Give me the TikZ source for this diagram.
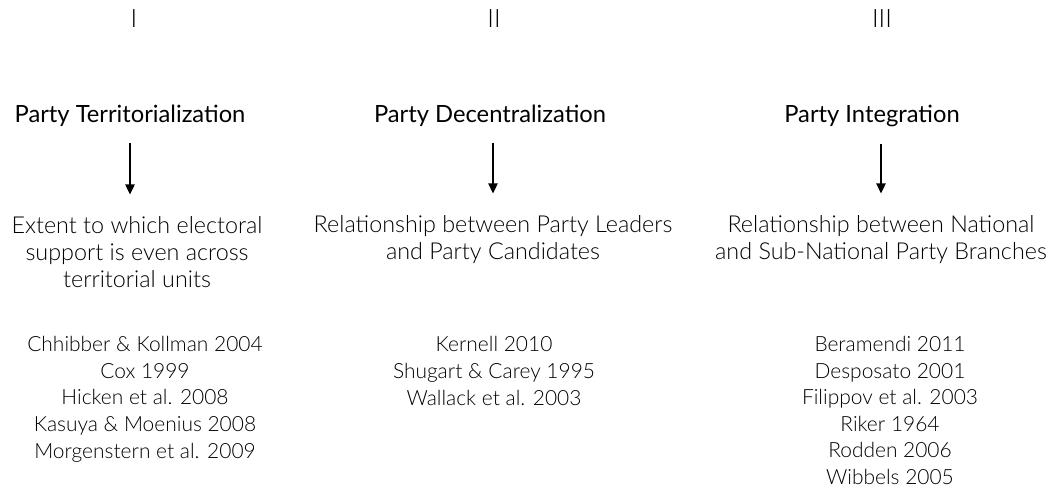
\documentclass[tikz,border=0pt]{standalone}
\usepackage{fontspec}
\setmainfont{Lato}
\newfontfamily\lightfont{Lato Light}
\usetikzlibrary{arrows.meta, positioning}

\begin{document}
\begin{tikzpicture}[x=0.75pt, y=-0.75pt,
  numeral/.style={font=\lightfont\fontsize{19}{19}\selectfont, inner sep=0pt},
  heading/.style={font=\fontsize{17.8}{20}\selectfont, anchor=base, inner sep=0pt},
  desc/.style={font=\lightfont\fontsize{17.5}{20.6}\selectfont, align=center, anchor=base, inner sep=0pt},
  refs/.style={font=\lightfont\fontsize{15.7}{19.9}\selectfont, align=center, anchor=base, inner sep=0pt},
  flow/.style={-{Triangle[width=7pt, length=7.5pt]}, line width=1pt, shorten <=12pt, shorten >=16pt}]
  \useasboundingbox (0,0) rectangle (1052,491);

  % column numbers
  \node[numeral] (n1) at (134,19) {I};
  \node[numeral] (n2) at (494,19) {II};
  \node[numeral] (n3) at (882,19) {III};

  % headings
  \node[heading] (t1) at (130,123) {Party Territorialization};
  \node[heading] (t2) at (490,123) {Party Decentralization};
  \node[heading] (t3) at (872,123) {Party Integration};

  % what each one measures (anchored at the last line)
  \node[desc] (d1) at (137,288) {Extent to which electoral\\support is even across\\territorial units};
  \node[desc] (d2) at (493,259.5) {Relationship between Party Leaders\\and Party Candidates};
  \node[desc] (d3) at (881,259.5) {Relationship between National\\and Sub-National Party Branches};

  % literature (anchored at the last line)
  \node[refs] (r1) at (145,458) {Chhibber \& Kollman 2004\\Cox 1999\\Hicken et al. 2008\\Kasuya \& Moenius 2008\\Morgenstern et al. 2009};
  \node[refs] (r2) at (494,405) {Kernell 2010\\Shugart \& Carey 1995\\Wallack et al. 2003};
  \node[refs] (r3) at (890,484.5) {Beramendi 2011\\Desposato 2001\\Filippov et al. 2003\\Riker 1964\\Rodden 2006\\Wibbels 2005};

  \draw[flow] (t1.south) -- (t1.south |- d1.north);
  \draw[flow] (t2.south -| d2.north) -- (d2.north);
  \draw[flow] (t3.south -| d3.north) -- (d3.north);
\end{tikzpicture}
\end{document}
